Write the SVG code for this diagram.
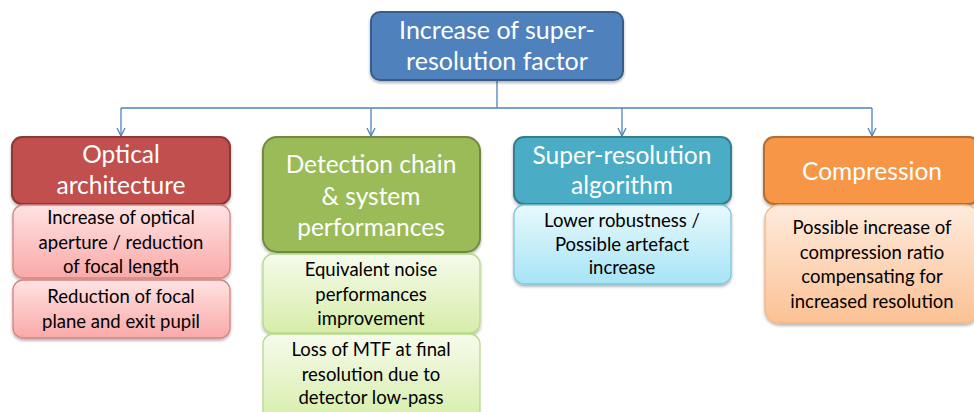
<svg xmlns="http://www.w3.org/2000/svg" width="974" height="412" viewBox="0 0 974 412">
<style>
.hd{font-family:Lato,"Open Sans","Liberation Sans",sans-serif;fill:#fff;text-anchor:middle;font-size:24.5px}
.sb{font-family:Lato,"Open Sans","Liberation Sans",sans-serif;fill:#000;text-anchor:middle;font-size:18.5px}
.cn{fill:none;stroke:#4F81BD;stroke-width:1.3}
</style>
<defs>
<filter id="sh" x="-10%" y="-10%" width="120%" height="130%"><feDropShadow dx="0" dy="2" stdDeviation="1.5" flood-color="#000" flood-opacity="0.3"/></filter>
<marker id="ar" viewBox="0 0 10 10" refX="9" refY="5" markerWidth="10" markerHeight="10" markerUnits="userSpaceOnUse" orient="auto"><path d="M1,1 L9,5 L1,9" fill="none" stroke="#4F81BD" stroke-width="1.3"/></marker>
<linearGradient id="gr" x1="0" y1="0" x2="0" y2="1"><stop offset="0" stop-color="#FFE3E3"/><stop offset="1" stop-color="#F9A9A8"/></linearGradient>
<linearGradient id="gg" x1="0" y1="0" x2="0" y2="1"><stop offset="0" stop-color="#F6FBEC"/><stop offset="1" stop-color="#D6EDA8"/></linearGradient>
<linearGradient id="gb" x1="0" y1="0" x2="0" y2="1"><stop offset="0" stop-color="#E8F9FD"/><stop offset="1" stop-color="#A6E4F5"/></linearGradient>
<linearGradient id="go" x1="0" y1="0" x2="0" y2="1"><stop offset="0" stop-color="#FEEBDD"/><stop offset="1" stop-color="#FBC194"/></linearGradient>
</defs>
<g id="connectors">
<path class="cn" d="M497,80 V108 M121,108 H872"/>
<path class="cn" d="M121,108 V136" marker-end="url(#ar)"/>
<path class="cn" d="M371,108 V136" marker-end="url(#ar)"/>
<path class="cn" d="M622,108 V136" marker-end="url(#ar)"/>
<path class="cn" d="M872,108 V136" marker-end="url(#ar)"/>
</g>
<g id="root">
<rect x="371" y="12" width="252" height="68" rx="9" fill="#4F81BD" stroke="#385D8A" stroke-width="2" filter="url(#sh)"/>
<text class="hd" style="font-size:25px" x="497" y="39">Increase of super-</text>
<text class="hd" style="font-size:25px" x="497" y="70">resolution factor</text>
</g>
<g id="optical">
<rect x="12" y="137" width="218" height="67" rx="10" fill="#C0504D" stroke="#8C3836" stroke-width="2" filter="url(#sh)"/>
<text class="hd" x="121" y="163">Optical</text>
<text class="hd" x="121" y="194">architecture</text>
</g>
<g id="optical-1">
<rect x="13" y="205" width="217" height="73" rx="10" fill="url(#gr)" stroke="#D8827F" stroke-width="1.3" filter="url(#sh)"/>
<text class="sb" x="121" y="224">Increase of optical</text>
<text class="sb" x="121" y="249">aperture / reduction</text>
<text class="sb" x="121" y="273">of focal length</text>
</g>
<g id="optical-2">
<rect x="13" y="280" width="217" height="58" rx="10" fill="url(#gr)" stroke="#D8827F" stroke-width="1.3" filter="url(#sh)"/>
<text class="sb" x="121" y="303">Reduction of focal</text>
<text class="sb" x="121" y="328">plane and exit pupil</text>
</g>
<g id="detection">
<rect x="263" y="137" width="217" height="115" rx="14" fill="#9BBB59" stroke="#71893F" stroke-width="2" filter="url(#sh)"/>
<text class="hd" x="371" y="173">Detection chain</text>
<text class="hd" x="371" y="205">&amp; system</text>
<text class="hd" x="371" y="236">performances</text>
</g>
<g id="detection-1">
<rect x="263" y="254" width="217" height="79" rx="10" fill="url(#gg)" stroke="#B7D98A" stroke-width="1.3" filter="url(#sh)"/>
<text class="sb" x="371" y="276">Equivalent noise</text>
<text class="sb" x="371" y="301">performances</text>
<text class="sb" x="371" y="325">improvement</text>
</g>
<g id="detection-2">
<rect x="263" y="334" width="217" height="90" rx="10" fill="url(#gg)" stroke="#B7D98A" stroke-width="1.3"/>
<text class="sb" x="371" y="356">Loss of MTF at final</text>
<text class="sb" x="371" y="381">resolution due to</text>
<text class="sb" x="371" y="404">detector low-pass</text>
</g>
<g id="superres">
<rect x="514" y="137" width="217" height="67" rx="10" fill="#4BACC6" stroke="#357D91" stroke-width="2" filter="url(#sh)"/>
<text class="hd" x="622" y="164">Super-resolution</text>
<text class="hd" x="622" y="194">algorithm</text>
</g>
<g id="superres-1">
<rect x="514" y="205" width="217" height="79" rx="10" fill="url(#gb)" stroke="#7CC8DC" stroke-width="1.3" filter="url(#sh)"/>
<text class="sb" x="622" y="227">Lower robustness /</text>
<text class="sb" x="622" y="251">Possible artefact</text>
<text class="sb" x="622" y="274">increase</text>
</g>
<g id="compression">
<rect x="764" y="137" width="215" height="67" rx="10" fill="#F79646" stroke="#B66D31" stroke-width="2" filter="url(#sh)"/>
<text class="hd" x="872" y="180">Compression</text>
</g>
<g id="compression-1">
<rect x="765" y="205" width="214" height="118" rx="14" fill="url(#go)" stroke="#F6B583" stroke-width="1.3" filter="url(#sh)"/>
<text class="sb" x="872" y="234">Possible increase of</text>
<text class="sb" x="872" y="259">compression ratio</text>
<text class="sb" x="872" y="283">compensating for</text>
<text class="sb" x="872" y="308">increased resolution</text>
</g>
</svg>
